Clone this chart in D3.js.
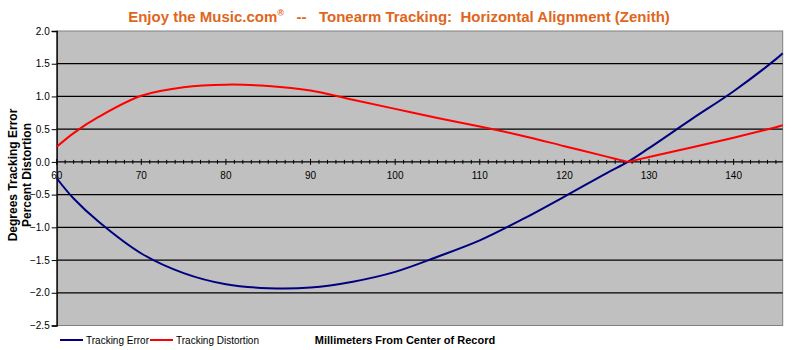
<!DOCTYPE html>
<html>
<head>
<meta charset="utf-8">
<script src="https://cdn.jsdelivr.net/npm/d3@7"></script>
<style>
  body { margin: 0; background: #fff; }
  svg { font-family: "Liberation Sans", Arial, sans-serif; }
</style>
</head>
<body>
<div id="chart"></div>
<script>
// data
var mm = [60, 62, 65, 70, 75, 80, 85, 90, 95, 100, 105, 110, 115, 120, 125, 127.5, 130, 135, 140, 145, 145.8];
var trackingError = [-0.25, -0.56, -0.92, -1.40, -1.70, -1.87, -1.93, -1.92, -1.83, -1.68, -1.45, -1.20, -0.88, -0.53, -0.17, 0, 0.21, 0.65, 1.08, 1.57, 1.66];
var trackingDistortion = [0.23, 0.44, 0.69, 1.01, 1.14, 1.18, 1.16, 1.09, 0.95, 0.81, 0.67, 0.54, 0.40, 0.24, 0.08, 0, 0.075, 0.22, 0.37, 0.53, 0.56];
var xTicks = [60, 70, 80, 90, 100, 110, 120, 130, 140];
var yTicks = [2.0, 1.5, 1.0, 0.5, 0.0, -0.5, -1.0, -1.5, -2.0, -2.5];
var seriesNames = ["Tracking Error", "Tracking Distortion"];
var seriesColors = ["#000080", "#ff0000"];

var width = 800,
    height = 350;

var svg = d3.select("#chart")
    .append("svg")
    .attr("width", width)
    .attr("height", height);

var x = d3.scaleLinear().domain([60, 145.8]).range([56.7, 782.7]);
var y = d3.scaleLinear().domain([-2.5, 2.0]).range([325.5, 31]);

// plot area
svg.append("rect")
    .attr("x", x(60))
    .attr("y", y(2.0))
    .attr("width", x(145.8) - x(60))
    .attr("height", y(-2.5) - y(2.0))
    .attr("fill", "#c0c0c0")
    .attr("stroke", "#808080")
    .attr("stroke-width", 1);

// horizontal gridlines
svg.append("g")
    .selectAll("line")
    .data(yTicks.filter(function (d) { return d < 2 && d > -2.5 && d != 0; }))
    .enter()
    .append("line")
    .attr("x1", x(60))
    .attr("x2", x(145.8))
    .attr("y1", function (d) { return y(d); })
    .attr("y2", function (d) { return y(d); })
    .attr("stroke", "#000")
    .attr("stroke-width", 1.3);

// y axis
var yAxis = d3.axisLeft(y)
    .tickValues(yTicks)
    .tickSize(5)
    .tickFormat(d3.format(".1f"));
var gy = svg.append("g")
    .attr("transform", "translate(" + x(60) + ",0)")
    .call(yAxis);
gy.select(".domain").attr("stroke", "#000").attr("stroke-width", 1.3);
gy.selectAll(".tick line").attr("stroke", "#000");
gy.selectAll(".tick text")
    .attr("x", -7)
    .style("font-size", "10px")
    .style("font-family", "Liberation Sans, Arial, sans-serif")
    .attr("fill", "#000");

// x axis sits on the zero line, minor ticks every mm
var minor = d3.range(60, 146, 1);
svg.append("g")
    .selectAll("line")
    .data(minor)
    .enter()
    .append("line")
    .attr("x1", function (d) { return x(d); })
    .attr("x2", function (d) { return x(d); })
    .attr("y1", function (d) { return y(0) - (d % 10 == 0 ? 3 : 2); })
    .attr("y2", function (d) { return y(0) + (d % 10 == 0 ? 3 : 2); })
    .attr("stroke", "#000")
    .attr("stroke-width", 1);

svg.append("line")
    .attr("x1", x(60))
    .attr("x2", x(145.8))
    .attr("y1", y(0))
    .attr("y2", y(0))
    .attr("stroke", "#000")
    .attr("stroke-width", 1.3);

svg.append("g")
    .selectAll("text")
    .data(xTicks)
    .enter()
    .append("text")
    .attr("x", function (d) { return x(d); })
    .attr("y", y(0) + 17)
    .attr("text-anchor", "middle")
    .style("font-size", "10px")
    .text(function (d) { return d; });

// lines
var line = d3.line()
    .x(function (d) { return x(d[0]); })
    .y(function (d) { return y(d[1]); })
    .curve(d3.curveCatmullRom.alpha(0.5));

var errPts = mm.map(function (m, i) { return [m, trackingError[i]]; });
var distPts = mm.map(function (m, i) { return [m, trackingDistortion[i]]; });
// split distortion at its null so the V stays sharp
var nullIdx = trackingDistortion.indexOf(d3.min(trackingDistortion));

svg.append("path")
    .attr("d", line(errPts))
    .attr("fill", "none")
    .attr("stroke", seriesColors[0])
    .attr("stroke-width", 2);

svg.append("path")
    .attr("d", line(distPts.slice(0, nullIdx + 1)) + line(distPts.slice(nullIdx)))
    .attr("fill", "none")
    .attr("stroke", seriesColors[1])
    .attr("stroke-width", 2);

// title
var title = svg.append("text")
    .attr("x", 399)
    .attr("y", 22)
    .attr("text-anchor", "middle")
    .attr("fill", "#e0661c")
    .style("font-size", "15px")
    .style("font-weight", "bold")
    .style("white-space", "pre");
title.append("tspan").text("Enjoy the Music.com");
title.append("tspan").attr("dy", -6).style("font-size", "9px").text("\u00AE");
title.append("tspan").attr("dy", 6).text("   --   Tonearm Tracking:  Horizontal Alignment (Zenith)");

// y axis title
var yTitle = svg.append("text")
    .attr("transform", "translate(13,175) rotate(-90)")
    .attr("text-anchor", "middle")
    .style("font-size", "12px")
    .style("font-weight", "bold");
yTitle.append("tspan").attr("x", 0).attr("dy", 4).text("Degrees Tracking Error");
yTitle.append("tspan").attr("x", 0).attr("dy", 14).text("Percent Distortion");

// x axis title
svg.append("text")
    .attr("x", 405)
    .attr("y", 344)
    .attr("text-anchor", "middle")
    .style("font-size", "11px")
    .style("font-weight", "bold")
    .text("Millimeters From Center of Record");

// legend
var legendX = [60, 150];
var legend = svg.append("g")
    .selectAll("g")
    .data(seriesNames)
    .enter()
    .append("g")
    .attr("transform", function (d, i) { return "translate(" + legendX[i] + ",340)"; });
legend.append("line")
    .attr("x1", 0)
    .attr("x2", 23)
    .attr("stroke", function (d, i) { return seriesColors[i]; })
    .attr("stroke-width", 2);
legend.append("text")
    .attr("x", 26)
    .attr("y", 3.5)
    .style("font-size", "10px")
    .text(function (d) { return d; });
</script>
</body>
</html>
